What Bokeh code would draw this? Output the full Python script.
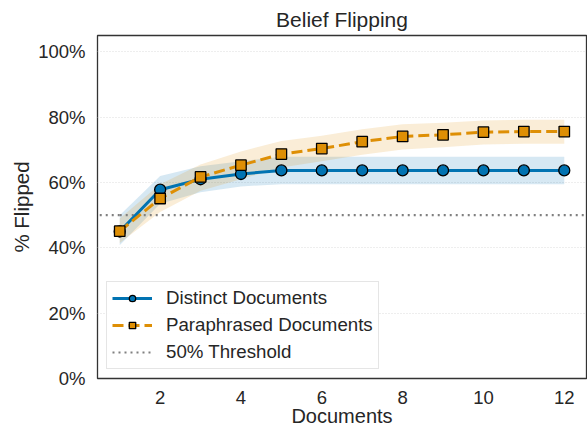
import math
from bokeh.plotting import figure
from bokeh.models import Range1d, PrintfTickFormatter, FixedTicker, Legend, LegendItem
from bokeh.embed import file_html
from bokeh.resources import INLINE

# ---- data ----
documents = [1, 2, 3, 4, 5, 6, 7, 8, 9, 10, 11, 12]
distinct_mean = [45.0, 57.8, 61.0, 62.6, 63.7, 63.7, 63.7, 63.7, 63.7, 63.7, 63.7, 63.7]
distinct_low = [40.8, 53.5, 57.0, 58.8, 59.5, 59.5, 59.5, 59.5, 59.5, 59.5, 59.5, 59.5]
distinct_high = [50.0, 62.0, 65.0, 66.5, 67.9, 67.9, 67.9, 67.9, 67.9, 67.9, 67.9, 67.9]
para_mean = [45.1, 55.1, 61.7, 65.3, 68.7, 70.4, 72.5, 74.1, 74.6, 75.4, 75.6, 75.6]
para_low = [41.5, 51.0, 57.5, 61.0, 64.6, 66.5, 68.5, 70.1, 70.8, 71.6, 71.9, 71.9]
para_high = [49.0, 59.5, 65.5, 69.5, 72.7, 74.3, 76.3, 77.8, 78.3, 79.0, 79.2, 79.2]
threshold = 50
x_ticks = [2, 4, 6, 8, 10, 12]
y_ticks = [0, 20, 40, 60, 80, 100]

BLUE = "#0173b2"
ORANGE = "#de8f05"
GREY = "#808080"
FONT = "Liberation Sans"
TXT = "#262626"

p = figure(width=587, height=430, output_backend="svg", toolbar_location=None,
           x_range=Range1d(0.45, 12.55), y_range=Range1d(0, 105),
           min_border_left=97, min_border_right=1, min_border_top=30, min_border_bottom=52)

p.title.text = "Belief Flipping"
p.title.align = "center"
p.title.text_font = FONT
p.title.text_font_size = "21px"
p.title.text_font_style = "normal"
p.title.text_color = TXT
p.title.offset = 0

p.outline_line_color = "#333333"
p.outline_line_width = 1.3
p.background_fill_color = "white"

p.xgrid.grid_line_color = None
p.ygrid.grid_line_color = "#dddddd"
p.ygrid.grid_line_dash = "1 2"
p.ygrid.grid_line_width = 1
p.ygrid.ticker = FixedTicker(ticks=y_ticks)

p.xaxis.ticker = FixedTicker(ticks=x_ticks)
p.yaxis.ticker = FixedTicker(ticks=y_ticks)
p.yaxis.formatter = PrintfTickFormatter(format="%d%%")
for ax in (p.xaxis, p.yaxis):
    ax.axis_line_color = None
    ax.major_tick_line_color = None
    ax.minor_tick_line_color = None
    ax.major_tick_out = 0
    ax.major_tick_in = 0
    ax.major_label_text_font = FONT
    ax.major_label_text_font_size = "18.5px"
    ax.major_label_text_color = TXT
    ax.axis_label_text_font = FONT
    ax.axis_label_text_font_size = "20px"
    ax.axis_label_text_font_style = "normal"
    ax.axis_label_text_color = TXT
p.yaxis.axis_label_text_font_size = "20.5px"
p.xaxis.axis_label = "Documents"
p.yaxis.axis_label = "% Flipped"
p.xaxis.major_label_standoff = 12
p.yaxis.major_label_standoff = 12
p.xaxis.axis_label_standoff = -2
p.yaxis.axis_label_standoff = 2

# bands
p.varea(x=documents, y1=distinct_low, y2=distinct_high, fill_color=BLUE, fill_alpha=0.16)
p.varea(x=documents, y1=para_low, y2=para_high, fill_color=ORANGE, fill_alpha=0.16)

# threshold: two infinite rays from the first document position, to the right and left
thr = p.ray(x=[documents[0], documents[0]], y=[threshold, threshold], length=0,
            angle=[0, math.pi], line_color=GREY, line_width=2.2, line_dash="2 4")

l1 = p.line(x=documents, y=distinct_mean, line_color=BLUE, line_width=3)
s1 = p.scatter(x=documents, y=distinct_mean, marker="circle", size=11,
               fill_color=BLUE, line_color="black", line_width=1.3)
l2 = p.line(x=documents, y=para_mean, line_color=ORANGE, line_width=3, line_dash="11 5")
s2 = p.scatter(x=documents, y=para_mean, marker="square", size=10.5,
               fill_color=ORANGE, line_color="black", line_width=1.3)

legend = Legend(items=[
    LegendItem(label="Distinct Documents", renderers=[l1, s1]),
    LegendItem(label="Paraphrased Documents", renderers=[l2, s2]),
    LegendItem(label="50% Threshold", renderers=[thr], index=0),
], location="bottom_left")
legend.label_text_font = FONT
legend.label_text_font_size = "18.7px"
legend.label_text_color = TXT
legend.border_line_color = "#cccccc"
legend.border_line_width = 1
legend.background_fill_alpha = 0.9
legend.glyph_width = 40
legend.glyph_height = 16
legend.label_standoff = 14
legend.spacing = 5
legend.padding = 5
legend.margin = 9
p.add_layout(legend)

open("out.html", "w").write(file_html(p, INLINE))
